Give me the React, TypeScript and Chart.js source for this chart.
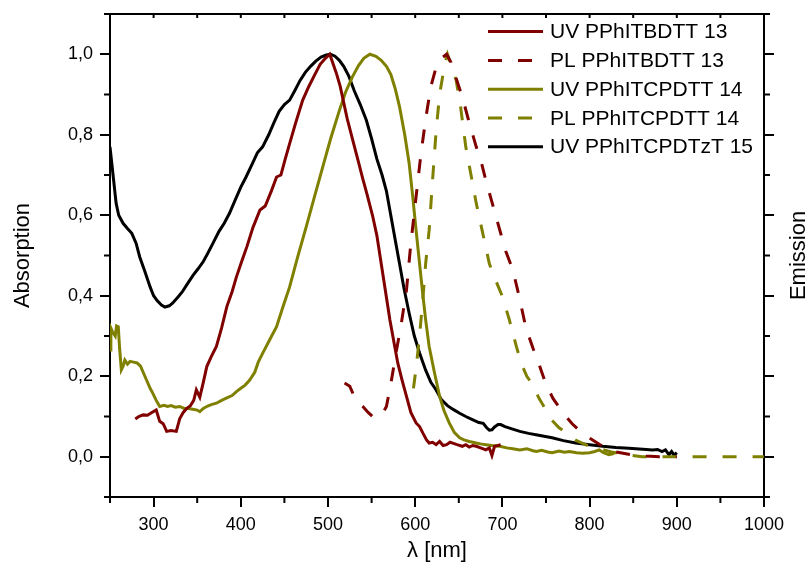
import React, { useEffect, useRef } from "react";
import { Chart, registerables } from "chart.js";

Chart.register(...registerables);

// ---------- data ----------
const uv13X = [279, 283, 288, 293, 298, 303, 307, 311, 315, 320, 326, 330, 334, 338, 342, 346, 349, 353, 357, 361, 366, 372, 378, 384, 390, 395, 401, 407, 414, 422, 428, 435, 441, 446, 451, 456, 463, 471, 478, 485, 491, 497, 502, 506, 510, 514, 517, 522, 528, 534, 540, 545, 551, 556, 561, 566, 571, 576, 580, 585, 590, 595, 601, 605, 609, 613, 616, 620, 624, 628, 632, 636, 640, 643, 648, 654, 658, 662, 666, 670, 675, 681, 685, 688, 691, 695, 698];
const uv13Y = [0.094, 0.1, 0.104, 0.103, 0.11, 0.116, 0.088, 0.082, 0.063, 0.065, 0.063, 0.095, 0.11, 0.12, 0.126, 0.14, 0.166, 0.148, 0.185, 0.224, 0.248, 0.274, 0.32, 0.373, 0.41, 0.447, 0.485, 0.522, 0.57, 0.613, 0.623, 0.66, 0.695, 0.7, 0.74, 0.778, 0.83, 0.886, 0.92, 0.95, 0.975, 0.99, 1.0, 0.975, 0.95, 0.92, 0.89, 0.84, 0.79, 0.74, 0.69, 0.65, 0.6, 0.55, 0.48, 0.41, 0.34, 0.28, 0.233, 0.19, 0.15, 0.11, 0.084, 0.075, 0.058, 0.042, 0.034, 0.036, 0.03, 0.038, 0.028, 0.03, 0.036, 0.034, 0.03, 0.026, 0.03, 0.024, 0.028, 0.026, 0.022, 0.017, 0.022, 0.003, 0.026, 0.028, 0.03];

const pl13X = [519, 525, 530, 535, 540, 546, 551, 557, 562, 567, 572, 578, 584, 590, 595, 601, 607, 613, 618, 624, 630, 636, 641, 647, 654, 662, 670, 676, 681, 689, 697, 704, 712, 719, 727, 735, 742, 750, 758, 766, 773, 780, 791, 803, 812, 820, 830, 840, 850, 860, 870, 880, 890, 900];
const pl13Y = [0.183, 0.175, 0.15, 0.135, 0.125, 0.11, 0.1, 0.097, 0.105, 0.125, 0.18, 0.258, 0.33, 0.414, 0.53, 0.646, 0.76, 0.853, 0.92, 0.968, 0.99, 1.0, 0.98, 0.94, 0.894, 0.83, 0.77, 0.73, 0.687, 0.625, 0.563, 0.51, 0.464, 0.4, 0.32, 0.27, 0.23, 0.18, 0.145, 0.12, 0.1, 0.082, 0.06, 0.042, 0.03, 0.02, 0.012, 0.008, 0.004, 0.002, 0.001, 0.0, 0.0, 0.0];

const uv14X = [250, 251, 253, 256, 257.5, 259.5, 261, 263, 265, 267, 270, 273, 277, 281, 285, 290, 292, 296, 299, 303, 307, 312, 316, 320, 325, 330, 335, 340, 345, 350, 353, 357, 362, 367, 372, 378, 384, 390, 395, 400, 405, 410, 416, 420, 425, 433, 441, 448, 456, 465, 475, 485, 494, 503, 513, 520, 528, 535, 541, 548, 555, 561, 567, 572, 577, 582, 588, 593, 597, 601, 605, 609, 612, 616, 622, 628, 633, 639, 645, 651, 656, 662, 670, 675, 681, 688, 697, 705, 712, 720, 728, 735, 739, 745, 752, 757, 765, 771, 777, 785, 792, 800, 806, 811, 816, 822, 828];
const uv14Y = [0.265, 0.32, 0.31, 0.3, 0.325, 0.323, 0.27, 0.216, 0.225, 0.24, 0.23, 0.237, 0.235, 0.233, 0.225, 0.2, 0.19, 0.17, 0.158, 0.14, 0.125, 0.128, 0.125, 0.127, 0.123, 0.125, 0.12, 0.12, 0.118, 0.116, 0.112, 0.12, 0.126, 0.13, 0.133, 0.14, 0.146, 0.152, 0.162, 0.17, 0.178, 0.19, 0.21, 0.235, 0.257, 0.29, 0.323, 0.37, 0.422, 0.495, 0.571, 0.65, 0.72, 0.79, 0.86, 0.905, 0.944, 0.972, 0.99, 1.0, 0.995, 0.985, 0.97, 0.95, 0.915, 0.87, 0.8, 0.73, 0.65, 0.563, 0.48, 0.398, 0.34, 0.274, 0.21, 0.15, 0.115, 0.084, 0.06, 0.047, 0.042, 0.038, 0.034, 0.032, 0.03, 0.028, 0.026, 0.022, 0.02, 0.017, 0.02, 0.015, 0.013, 0.016, 0.012, 0.01, 0.014, 0.011, 0.013, 0.01, 0.009, 0.01, 0.013, 0.017, 0.01, 0.005, 0.008];

const pl14X = [598, 601, 605, 609, 612, 616, 620, 624, 628, 634, 637, 642, 647, 652, 658, 664, 670, 677, 685, 692, 700, 708, 716, 722, 728, 735, 742, 750, 757, 765, 773, 785, 800, 811, 825, 838, 849, 860, 880, 900, 950, 1000];
const pl14Y = [0.17, 0.22, 0.3, 0.398, 0.48, 0.563, 0.69, 0.81, 0.9, 0.977, 1.0, 0.97, 0.935, 0.87, 0.77, 0.7, 0.63, 0.56, 0.48, 0.44, 0.398, 0.34, 0.274, 0.23, 0.2, 0.178, 0.145, 0.116, 0.09, 0.072, 0.06, 0.04, 0.026, 0.02, 0.012, 0.006, 0.003, 0.0, 0.0, 0.0, 0.0, 0.0];

const uv15X = [250, 252, 254, 257, 260, 265, 270, 275, 280, 284, 290, 296, 300, 304, 309, 313, 318, 322, 328, 333, 338, 345, 351, 357, 362, 368, 375, 381, 387, 394, 400, 406, 413, 419, 425, 432, 438, 444, 450, 456, 462, 468, 474, 480, 486, 492, 498, 503, 508, 513, 518, 524, 530, 537, 544, 550, 556, 562, 567, 572, 577, 582, 587, 593, 599, 605, 612, 618, 624, 630, 637, 644, 651, 658, 665, 673, 678, 682, 685, 688, 691, 695, 698, 703, 710, 720, 730, 740, 757, 770, 784, 800, 815, 830, 845, 853, 865, 872, 878, 883, 887, 891, 894, 897, 900];
const uv15Y = [0.77, 0.73, 0.69, 0.63, 0.6, 0.58, 0.567, 0.555, 0.53, 0.497, 0.46, 0.422, 0.4, 0.388, 0.377, 0.372, 0.375, 0.382, 0.397, 0.41, 0.427, 0.45, 0.467, 0.485, 0.505, 0.53, 0.56, 0.58, 0.605, 0.64, 0.67, 0.695, 0.727, 0.755, 0.77, 0.8, 0.83, 0.858, 0.875, 0.886, 0.91, 0.935, 0.955, 0.97, 0.983, 0.993, 0.998, 1.0, 0.995, 0.985, 0.97, 0.945, 0.91, 0.875, 0.836, 0.79, 0.74, 0.7, 0.66, 0.6, 0.54, 0.48, 0.42, 0.357, 0.3, 0.258, 0.215, 0.185, 0.166, 0.142, 0.127, 0.117, 0.108, 0.1, 0.093, 0.085, 0.083, 0.072, 0.066, 0.067, 0.074, 0.08, 0.08, 0.075, 0.07, 0.063, 0.058, 0.054, 0.047, 0.04, 0.034, 0.03, 0.026, 0.023, 0.021, 0.02, 0.018, 0.017, 0.018, 0.013, 0.017, 0.005, 0.013, 0.004, 0.01];

const seriesLabels = ["UV PPhITBDTT 13", "PL PPhITBDTT 13", "UV PPhITCPDTT 14", "PL PPhITCPDTT 14", "UV PPhITCPDTzT 15"];
const xTicks = [300, 400, 500, 600, 700, 800, 900, 1000];
const yTicks = [0, 0.2, 0.4, 0.6, 0.8, 1.0];
const xMinor = [250, 350, 450, 550, 650, 750, 850, 950];
const yMinor = [-0.1, 0.1, 0.3, 0.5, 0.7, 0.9, 1.1];

const RED = "#800000";
const OLIVE = "#808000";
const FONT = "'Liberation Sans', Arial, sans-serif";

const pts = (xs: number[], ys: number[]) => xs.map((x, i) => ({ x, y: ys[i] }));

const extrasPlugin = {
  id: "extras",
  afterDraw(chart: any) {
    const { ctx, chartArea } = chart;
    const xs = chart.scales.x;
    const ys = chart.scales.y;
    ctx.save();
    ctx.strokeStyle = "#000";
    ctx.lineWidth = 2;
    ctx.beginPath();
    for (const v of xMinor) {
      const px = xs.getPixelForValue(v);
      ctx.moveTo(px, chartArea.bottom);
      ctx.lineTo(px, chartArea.bottom + 6);
    }
    for (const v of [...xMinor, ...xTicks]) {
      const px = xs.getPixelForValue(v);
      ctx.moveTo(px, chartArea.top);
      ctx.lineTo(px, chartArea.top + 4);
    }
    for (const v of yMinor) {
      const py = ys.getPixelForValue(v);
      ctx.moveTo(chartArea.left - 6, py);
      ctx.lineTo(chartArea.left, py);
      ctx.moveTo(chartArea.right, py);
      ctx.lineTo(chartArea.right + 6, py);
    }
    ctx.stroke();

    ctx.fillStyle = "#000";
    ctx.font = `22px ${FONT}`;
    ctx.textAlign = "center";
    ctx.textBaseline = "middle";
    ctx.translate(799, (chartArea.top + chartArea.bottom) / 2);
    ctx.rotate(-Math.PI / 2);
    ctx.fillText("Emission", 0, 0);
    ctx.restore();

    // legend
    ctx.save();
    const rowY = [31.5, 60.5, 89.3, 118, 146.7];
    chart.data.datasets.forEach((ds: any, i: number) => {
      const y = rowY[i];
      ctx.strokeStyle = ds.borderColor;
      ctx.lineWidth = 3;
      ctx.setLineDash(ds.borderDash || []);
      ctx.beginPath();
      ctx.moveTo(488, y);
      ctx.lineTo(543, y);
      ctx.stroke();
      ctx.setLineDash([]);
      ctx.fillStyle = "#000";
      ctx.font = `21px ${FONT}`;
      ctx.textAlign = "left";
      ctx.textBaseline = "middle";
      ctx.fillText(ds.label, 550, y + 1);
    });
    ctx.restore();
  },
};

export default function App() {
  const ref = useRef<HTMLCanvasElement | null>(null);
  useEffect(() => {
    if (!ref.current) return;
    Chart.defaults.color = "#000";
    Chart.defaults.font.family = FONT;
    const mk = (label: string, xs: number[], ys: number[], color: string, dash?: number[]) => ({
      label,
      data: pts(xs, ys),
      borderColor: color,
      backgroundColor: color,
      borderWidth: 3,
      borderDash: dash,
      pointRadius: 0,
      tension: 0,
      fill: false,
    });
    const noPad = (s: any) => { s.paddingTop = 0; s.paddingBottom = 0; s.paddingLeft = 0; s.paddingRight = 0; };
    const chart = new Chart(ref.current, {
      type: "line",
      data: {
        datasets: [
          mk(seriesLabels[0], uv13X, uv13Y, RED),
          mk(seriesLabels[1], pl13X, pl13Y, RED, [14, 16]),
          mk(seriesLabels[2], uv14X, uv14Y, OLIVE),
          mk(seriesLabels[3], pl14X, pl14Y, OLIVE, [14, 16]),
          mk(seriesLabels[4], uv15X, uv15Y, "#000"),
        ] as any,
      },
      options: {
        animation: false,
        responsive: false,
        maintainAspectRatio: false,
        layout: { padding: 0 },
        plugins: { legend: { display: false }, tooltip: { enabled: false } },
        scales: {
          x: {
            type: "linear",
            position: "bottom",
            min: 250,
            max: 1000,
            afterBuildTicks: (s: any) => { s.ticks = xTicks.map((v) => ({ value: v })); },
            afterFit: (s: any) => { s.height = 75; noPad(s); },
            ticks: { font: { size: 18 }, padding: 7, maxRotation: 0, autoSkip: false, callback: (v: any) => String(v) },
            grid: { display: true, drawOnChartArea: false, drawTicks: true, tickLength: 10, color: "#000", lineWidth: 2 },
            border: { display: true, color: "#000", width: 2 },
            title: { display: true, text: "λ [nm]", font: { size: 22 }, padding: { top: 0, bottom: 8 } },
          },
          x2: {
            type: "linear",
            position: "top",
            min: 250,
            max: 1000,
            afterFit: (s: any) => { s.height = 14; noPad(s); },
            ticks: { display: false },
            grid: { display: false, drawTicks: false },
            border: { display: true, color: "#000", width: 2 },
          },
          y: {
            type: "linear",
            position: "left",
            min: -0.1,
            max: 1.1,
            afterBuildTicks: (s: any) => { s.ticks = yTicks.map((v) => ({ value: v })); },
            afterFit: (s: any) => { s.width = 110; noPad(s); },
            ticks: { font: { size: 18 }, padding: 7, autoSkip: false, callback: (v: any) => Number(v).toFixed(1).replace(".", ",") },
            grid: { display: true, drawOnChartArea: false, drawTicks: true, tickLength: 10, color: "#000", lineWidth: 2 },
            border: { display: true, color: "#000", width: 2 },
            title: { display: true, text: "Absorption", font: { size: 22 }, padding: { top: 10, bottom: 0 } },
          },
          y2: {
            type: "linear",
            position: "right",
            min: -0.1,
            max: 1.1,
            afterBuildTicks: (s: any) => { s.ticks = yTicks.map((v) => ({ value: v })); },
            afterFit: (s: any) => { s.width = 46; noPad(s); },
            ticks: { display: false },
            grid: { display: true, drawOnChartArea: false, drawTicks: true, tickLength: 10, color: "#000", lineWidth: 2 },
            border: { display: true, color: "#000", width: 2 },
          },
        },
      } as any,
      plugins: [extrasPlugin],
    });
    return () => chart.destroy();
  }, []);
  return (
    <div style={{ position: "absolute", left: 0, top: 0, width: 810, height: 572, background: "#fff" }}>
      <canvas ref={ref} width={810} height={572} />
    </div>
  );
}
